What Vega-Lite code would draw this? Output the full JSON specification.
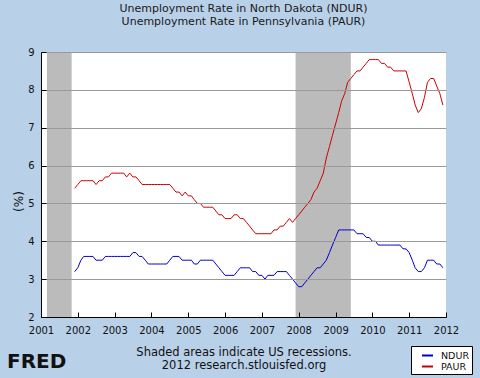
{
  "$schema": "https://vega.github.io/schema/vega-lite/v6.json",
  "width": 405,
  "height": 265,
  "autosize": {"type": "none"},
  "padding": {"left": 41, "top": 52, "right": 34, "bottom": 61},
  "background": "#b9d0e9",
  "config": {
    "view": {"fill": "white", "stroke": null},
    "axis": {
      "tickSize": -5, "tickColor": "black", "domainColor": "black",
      "labelFont": "DejaVu Sans", "labelFontSize": 10, "labelColor": "#111111",
      "labelFlush": false, "labelOverlap": false,
      "titleFont": "DejaVu Sans", "titleFontWeight": "normal", "titleColor": "#111111"
    },
    "axisX": {"labelPadding": 13, "titleFontSize": 11.5, "titlePadding": 11, "titleLineHeight": 13},
    "axisY": {"labelPadding": 12, "titleFontSize": 12, "titleAngle": -90, "titleAlign": "center", "titleBaseline": "middle", "titleX": -23, "titleY": 149}
  },
  "title": {
    "text": ["Unemployment Rate in North Dakota (NDUR)", "Unemployment Rate in Pennsylvania (PAUR)"],
    "font": "DejaVu Sans", "fontSize": 11, "fontWeight": "normal", "color": "#1a1a1a",
    "lineHeight": 13.5, "offset": 20, "anchor": "middle", "frame": "group"
  },
  "datasets": {
    "recessions": [
      {"date": "2001-03-01", "end": "2001-11-01"},
      {"date": "2007-12-01", "end": "2009-06-01"}
    ],
    "rates": [
      {"date": "2001-12-01", "NDUR": 3.2, "PAUR": 5.4},
      {"date": "2002-01-01", "NDUR": 3.3, "PAUR": 5.5},
      {"date": "2002-02-01", "NDUR": 3.5, "PAUR": 5.6},
      {"date": "2002-03-01", "NDUR": 3.6, "PAUR": 5.6},
      {"date": "2002-04-01", "NDUR": 3.6, "PAUR": 5.6},
      {"date": "2002-05-01", "NDUR": 3.6, "PAUR": 5.6},
      {"date": "2002-06-01", "NDUR": 3.6, "PAUR": 5.6},
      {"date": "2002-07-01", "NDUR": 3.5, "PAUR": 5.5},
      {"date": "2002-08-01", "NDUR": 3.5, "PAUR": 5.6},
      {"date": "2002-09-01", "NDUR": 3.5, "PAUR": 5.6},
      {"date": "2002-10-01", "NDUR": 3.6, "PAUR": 5.7},
      {"date": "2002-11-01", "NDUR": 3.6, "PAUR": 5.7},
      {"date": "2002-12-01", "NDUR": 3.6, "PAUR": 5.8},
      {"date": "2003-01-01", "NDUR": 3.6, "PAUR": 5.8},
      {"date": "2003-02-01", "NDUR": 3.6, "PAUR": 5.8},
      {"date": "2003-03-01", "NDUR": 3.6, "PAUR": 5.8},
      {"date": "2003-04-01", "NDUR": 3.6, "PAUR": 5.8},
      {"date": "2003-05-01", "NDUR": 3.6, "PAUR": 5.7},
      {"date": "2003-06-01", "NDUR": 3.6, "PAUR": 5.8},
      {"date": "2003-07-01", "NDUR": 3.7, "PAUR": 5.7},
      {"date": "2003-08-01", "NDUR": 3.7, "PAUR": 5.7},
      {"date": "2003-09-01", "NDUR": 3.6, "PAUR": 5.6},
      {"date": "2003-10-01", "NDUR": 3.6, "PAUR": 5.5},
      {"date": "2003-11-01", "NDUR": 3.5, "PAUR": 5.5},
      {"date": "2003-12-01", "NDUR": 3.4, "PAUR": 5.5},
      {"date": "2004-01-01", "NDUR": 3.4, "PAUR": 5.5},
      {"date": "2004-02-01", "NDUR": 3.4, "PAUR": 5.5},
      {"date": "2004-03-01", "NDUR": 3.4, "PAUR": 5.5},
      {"date": "2004-04-01", "NDUR": 3.4, "PAUR": 5.5},
      {"date": "2004-05-01", "NDUR": 3.4, "PAUR": 5.5},
      {"date": "2004-06-01", "NDUR": 3.4, "PAUR": 5.5},
      {"date": "2004-07-01", "NDUR": 3.5, "PAUR": 5.5},
      {"date": "2004-08-01", "NDUR": 3.6, "PAUR": 5.4},
      {"date": "2004-09-01", "NDUR": 3.6, "PAUR": 5.3},
      {"date": "2004-10-01", "NDUR": 3.6, "PAUR": 5.3},
      {"date": "2004-11-01", "NDUR": 3.5, "PAUR": 5.2},
      {"date": "2004-12-01", "NDUR": 3.5, "PAUR": 5.3},
      {"date": "2005-01-01", "NDUR": 3.5, "PAUR": 5.2},
      {"date": "2005-02-01", "NDUR": 3.5, "PAUR": 5.2},
      {"date": "2005-03-01", "NDUR": 3.4, "PAUR": 5.1},
      {"date": "2005-04-01", "NDUR": 3.4, "PAUR": 5.0},
      {"date": "2005-05-01", "NDUR": 3.5, "PAUR": 5.0},
      {"date": "2005-06-01", "NDUR": 3.5, "PAUR": 4.9},
      {"date": "2005-07-01", "NDUR": 3.5, "PAUR": 4.9},
      {"date": "2005-08-01", "NDUR": 3.5, "PAUR": 4.9},
      {"date": "2005-09-01", "NDUR": 3.5, "PAUR": 4.9},
      {"date": "2005-10-01", "NDUR": 3.4, "PAUR": 4.8},
      {"date": "2005-11-01", "NDUR": 3.3, "PAUR": 4.7},
      {"date": "2005-12-01", "NDUR": 3.2, "PAUR": 4.7},
      {"date": "2006-01-01", "NDUR": 3.1, "PAUR": 4.6},
      {"date": "2006-02-01", "NDUR": 3.1, "PAUR": 4.6},
      {"date": "2006-03-01", "NDUR": 3.1, "PAUR": 4.6},
      {"date": "2006-04-01", "NDUR": 3.1, "PAUR": 4.7},
      {"date": "2006-05-01", "NDUR": 3.2, "PAUR": 4.7},
      {"date": "2006-06-01", "NDUR": 3.3, "PAUR": 4.6},
      {"date": "2006-07-01", "NDUR": 3.3, "PAUR": 4.6},
      {"date": "2006-08-01", "NDUR": 3.3, "PAUR": 4.5},
      {"date": "2006-09-01", "NDUR": 3.3, "PAUR": 4.4},
      {"date": "2006-10-01", "NDUR": 3.2, "PAUR": 4.3},
      {"date": "2006-11-01", "NDUR": 3.2, "PAUR": 4.2},
      {"date": "2006-12-01", "NDUR": 3.1, "PAUR": 4.2},
      {"date": "2007-01-01", "NDUR": 3.1, "PAUR": 4.2},
      {"date": "2007-02-01", "NDUR": 3.0, "PAUR": 4.2},
      {"date": "2007-03-01", "NDUR": 3.1, "PAUR": 4.2},
      {"date": "2007-04-01", "NDUR": 3.1, "PAUR": 4.2},
      {"date": "2007-05-01", "NDUR": 3.1, "PAUR": 4.3},
      {"date": "2007-06-01", "NDUR": 3.2, "PAUR": 4.3},
      {"date": "2007-07-01", "NDUR": 3.2, "PAUR": 4.4},
      {"date": "2007-08-01", "NDUR": 3.2, "PAUR": 4.4},
      {"date": "2007-09-01", "NDUR": 3.2, "PAUR": 4.5},
      {"date": "2007-10-01", "NDUR": 3.1, "PAUR": 4.6},
      {"date": "2007-11-01", "NDUR": 3.0, "PAUR": 4.5},
      {"date": "2007-12-01", "NDUR": 2.9, "PAUR": 4.6},
      {"date": "2008-01-01", "NDUR": 2.8, "PAUR": 4.7},
      {"date": "2008-02-01", "NDUR": 2.8, "PAUR": 4.8},
      {"date": "2008-03-01", "NDUR": 2.9, "PAUR": 4.9},
      {"date": "2008-04-01", "NDUR": 3.0, "PAUR": 5.0},
      {"date": "2008-05-01", "NDUR": 3.1, "PAUR": 5.1},
      {"date": "2008-06-01", "NDUR": 3.2, "PAUR": 5.3},
      {"date": "2008-07-01", "NDUR": 3.3, "PAUR": 5.4},
      {"date": "2008-08-01", "NDUR": 3.3, "PAUR": 5.6},
      {"date": "2008-09-01", "NDUR": 3.4, "PAUR": 5.8},
      {"date": "2008-10-01", "NDUR": 3.5, "PAUR": 6.2},
      {"date": "2008-11-01", "NDUR": 3.7, "PAUR": 6.5},
      {"date": "2008-12-01", "NDUR": 3.9, "PAUR": 6.8},
      {"date": "2009-01-01", "NDUR": 4.1, "PAUR": 7.1},
      {"date": "2009-02-01", "NDUR": 4.3, "PAUR": 7.4},
      {"date": "2009-03-01", "NDUR": 4.3, "PAUR": 7.7},
      {"date": "2009-04-01", "NDUR": 4.3, "PAUR": 7.9},
      {"date": "2009-05-01", "NDUR": 4.3, "PAUR": 8.2},
      {"date": "2009-06-01", "NDUR": 4.3, "PAUR": 8.3},
      {"date": "2009-07-01", "NDUR": 4.3, "PAUR": 8.4},
      {"date": "2009-08-01", "NDUR": 4.2, "PAUR": 8.5},
      {"date": "2009-09-01", "NDUR": 4.2, "PAUR": 8.5},
      {"date": "2009-10-01", "NDUR": 4.2, "PAUR": 8.6},
      {"date": "2009-11-01", "NDUR": 4.1, "PAUR": 8.7},
      {"date": "2009-12-01", "NDUR": 4.1, "PAUR": 8.8},
      {"date": "2010-01-01", "NDUR": 4.0, "PAUR": 8.8},
      {"date": "2010-02-01", "NDUR": 4.0, "PAUR": 8.8},
      {"date": "2010-03-01", "NDUR": 3.9, "PAUR": 8.8},
      {"date": "2010-04-01", "NDUR": 3.9, "PAUR": 8.7},
      {"date": "2010-05-01", "NDUR": 3.9, "PAUR": 8.7},
      {"date": "2010-06-01", "NDUR": 3.9, "PAUR": 8.6},
      {"date": "2010-07-01", "NDUR": 3.9, "PAUR": 8.6},
      {"date": "2010-08-01", "NDUR": 3.9, "PAUR": 8.5},
      {"date": "2010-09-01", "NDUR": 3.9, "PAUR": 8.5},
      {"date": "2010-10-01", "NDUR": 3.9, "PAUR": 8.5},
      {"date": "2010-11-01", "NDUR": 3.8, "PAUR": 8.5},
      {"date": "2010-12-01", "NDUR": 3.8, "PAUR": 8.5},
      {"date": "2011-01-01", "NDUR": 3.7, "PAUR": 8.2},
      {"date": "2011-02-01", "NDUR": 3.5, "PAUR": 7.9},
      {"date": "2011-03-01", "NDUR": 3.3, "PAUR": 7.6},
      {"date": "2011-04-01", "NDUR": 3.2, "PAUR": 7.4},
      {"date": "2011-05-01", "NDUR": 3.2, "PAUR": 7.5},
      {"date": "2011-06-01", "NDUR": 3.3, "PAUR": 7.8},
      {"date": "2011-07-01", "NDUR": 3.5, "PAUR": 8.2},
      {"date": "2011-08-01", "NDUR": 3.5, "PAUR": 8.3},
      {"date": "2011-09-01", "NDUR": 3.5, "PAUR": 8.3},
      {"date": "2011-10-01", "NDUR": 3.4, "PAUR": 8.1},
      {"date": "2011-11-01", "NDUR": 3.4, "PAUR": 7.9},
      {"date": "2011-12-01", "NDUR": 3.3, "PAUR": 7.6}
    ],
    "logo": [{"label": "FRED"}]
  },
  "layer": [
    {
      "data": {"name": "recessions"},
      "mark": {"type": "rect", "color": "#bbbbbb"},
      "encoding": {
        "x": {
          "field": "date", "type": "temporal",
          "scale": {"domain": [{"year": 2001, "month": 1, "date": 1}, {"year": 2012, "month": 1, "date": 1}], "nice": false},
          "axis": {
            "title": ["Shaded areas indicate US recessions.", "2012 research.stlouisfed.org"],
            "format": "%Y", "tickCount": {"interval": "year", "step": 1}, "grid": false, "zindex": 1
          }
        },
        "x2": {"field": "end"}
      }
    },
    {
      "data": {"name": "rates"},
      "transform": [{"fold": ["NDUR", "PAUR"], "as": ["series", "rate"]}],
      "mark": {"type": "line", "strokeWidth": 1},
      "encoding": {
        "x": {"field": "date", "type": "temporal", "axis": {"title": ["Shaded areas indicate US recessions.", "2012 research.stlouisfed.org"], "grid": false, "zindex": 1}},
        "y": {
          "field": "rate", "type": "quantitative",
          "scale": {"domain": [2, 9], "nice": false, "zero": false},
          "axis": {"title": "(%)", "tickCount": 8, "grid": true, "gridColor": "#999999", "gridWidth": 1, "gridOpacity": 1, "zindex": 1}
        },
        "color": {
          "field": "series", "type": "nominal",
          "scale": {"domain": ["NDUR", "PAUR"], "range": ["#0000cc", "#cc0000"]},
          "legend": {
            "title": null, "orient": "none", "legendX": 370, "legendY": 294, "direction": "vertical",
            "fillColor": "white", "strokeColor": "black", "padding": 3,
            "symbolType": "stroke", "symbolSize": 121, "symbolStrokeWidth": 2, "symbolOffset": 7,
            "labelFont": "DejaVu Sans", "labelFontSize": 9.5, "labelColor": "#111111", "labelOffset": 7,
            "rowPadding": -1
          }
        }
      }
    },
    {
      "data": {"name": "logo"},
      "mark": {"type": "text", "font": "DejaVu Sans", "fontWeight": "bold", "fontSize": 20, "color": "#111111", "align": "left", "baseline": "alphabetic", "dx": -34, "dy": 51},
      "encoding": {
        "x": {"datum": {"year": 2001, "month": 1, "date": 1}, "type": "temporal"},
        "y": {"datum": 2, "type": "quantitative"},
        "text": {"field": "label"}
      }
    }
  ]
}
